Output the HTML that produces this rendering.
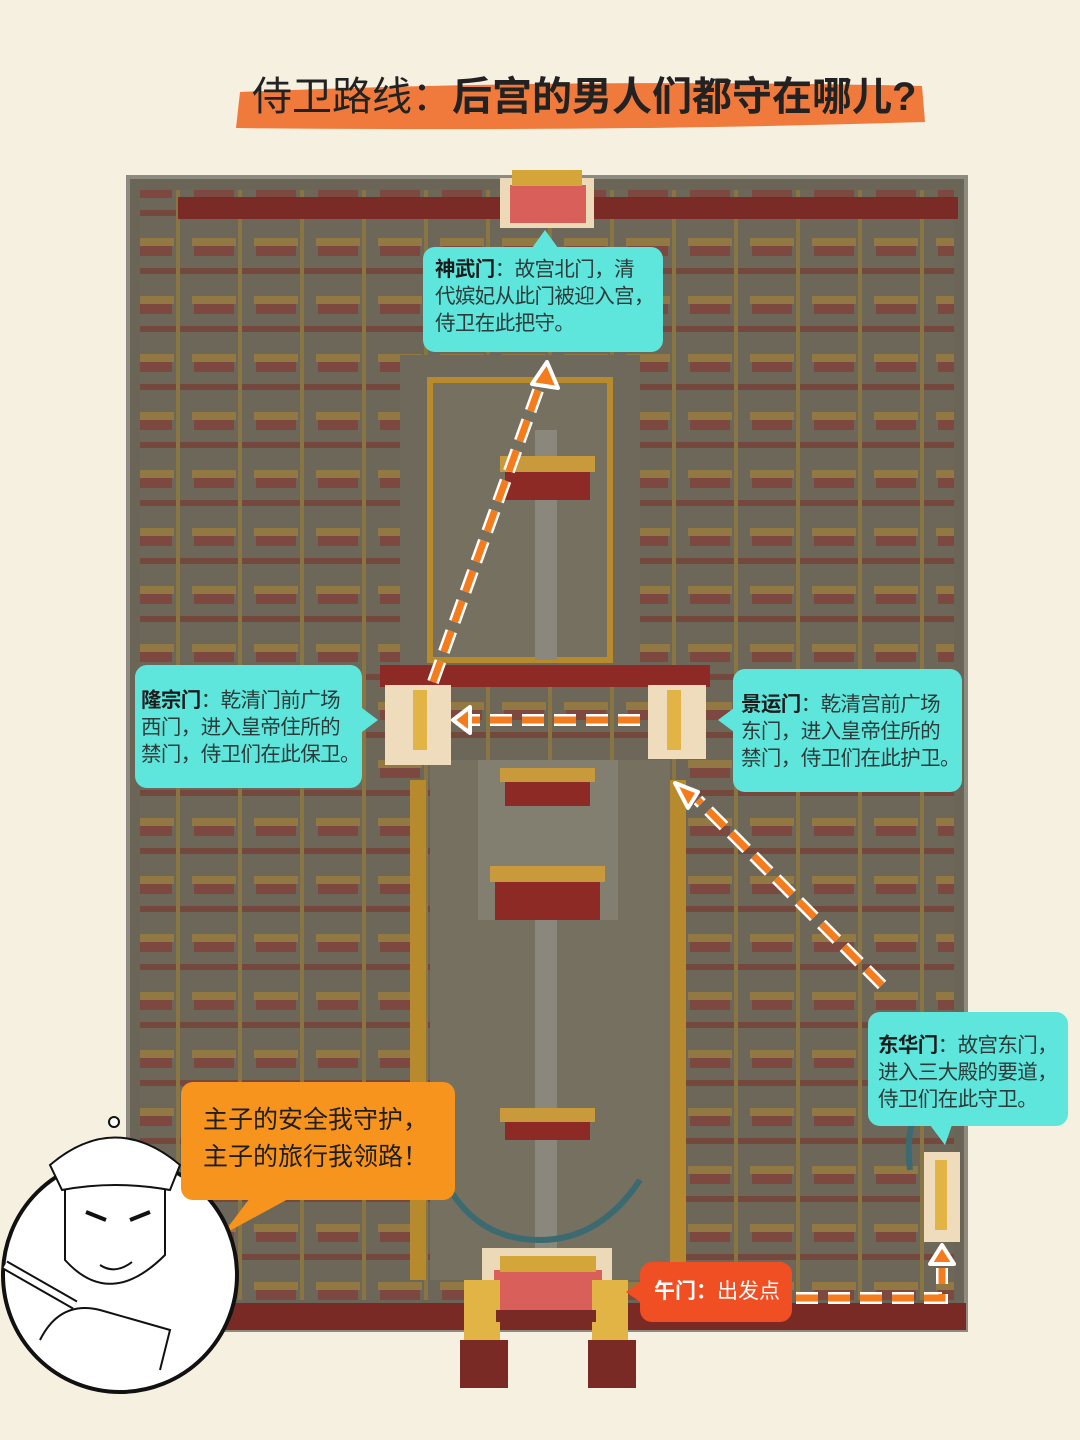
<!DOCTYPE html>
<html><head><meta charset="utf-8"><style>
body{margin:0;width:1080px;height:1440px;background:#f6f0e0;overflow:hidden;position:relative;font-family:"Liberation Sans","Noto Sans CJK SC",sans-serif}
.c{position:absolute;background:#5fe6dc;border-radius:12px;color:#2d3b3a;font-size:20.5px;line-height:27px;padding:9px 0 0 12px;box-sizing:border-box;white-space:nowrap;letter-spacing:-0.6px}
.c b{color:#1c1c1c}
</style></head><body>
<svg width="1080" height="1440" style="position:absolute;left:0;top:0">
<defs>
<pattern id="bld" width="62" height="58" patternUnits="userSpaceOnUse">
<rect width="62" height="58" fill="#6f695c"/>
<rect x="6" y="6" width="44" height="8" fill="#b88a2e"/>
<rect x="8" y="14" width="40" height="10" fill="#8e2a26"/>
<rect x="0" y="36" width="62" height="6" fill="#7e2a24"/>
<rect x="52" y="0" width="4" height="58" fill="#a7842f"/>
</pattern>
</defs>
<path d="M240 92 Q580 78 922 86 L925 122 Q600 132 236 128 Z" fill="#f07a3c"/>
<rect x="128" y="177" width="838" height="1153" fill="#6b6558" stroke="#8d8a80" stroke-width="4"/>
<rect x="140" y="190" width="814" height="1110" fill="url(#bld)" opacity="0.5"/>
<rect x="178" y="197" width="780" height="22" fill="#7b2b25"/>
<rect x="128" y="1303" width="838" height="27" fill="#7a2a24"/>
<rect x="400" y="355" width="240" height="310" fill="#6f695c"/>
<rect x="430" y="380" width="180" height="280" fill="#75705f" stroke="#b88a2e" stroke-width="6"/>
<rect x="535" y="430" width="22" height="230" fill="#8a877c"/>
<rect x="430" y="760" width="240" height="520" fill="#75705f"/>
<rect x="478" y="760" width="140" height="160" fill="#8a877c" opacity="0.6"/>
<rect x="535" y="920" width="22" height="350" fill="#8a877c"/>
<rect x="410" y="780" width="16" height="500" fill="#b88a2e"/>
<rect x="670" y="780" width="16" height="500" fill="#b88a2e"/>
<rect x="380" y="665" width="330" height="22" fill="#8e2a26"/>
<rect x="495" y="880" width="105" height="40" fill="#8e2a26"/><rect x="490" y="866" width="115" height="16" fill="#c99a3c"/>
<rect x="505" y="780" width="85" height="26" fill="#8e2a26"/><rect x="500" y="768" width="95" height="14" fill="#c99a3c"/>
<rect x="505" y="470" width="85" height="30" fill="#8e2a26"/><rect x="500" y="456" width="95" height="16" fill="#c99a3c"/>
<rect x="505" y="1120" width="85" height="20" fill="#8e2a26"/><rect x="500" y="1108" width="95" height="14" fill="#c99a3c"/>
<path d="M440 1170 Q470 1240 540 1240 Q600 1240 640 1180" fill="none" stroke="#3b6b70" stroke-width="6"/>
<path d="M910 1170 Q905 1130 920 1100" fill="none" stroke="#3b6b70" stroke-width="6"/>
<rect x="500" y="178" width="94" height="50" fill="#ecd9b8"/>
<rect x="510" y="185" width="76" height="38" fill="#d9605a"/>
<rect x="512" y="170" width="70" height="16" fill="#d4a63a"/>
<rect x="385" y="685" width="66" height="80" fill="#efdcbc"/>
<rect x="413" y="690" width="14" height="60" fill="#e2b445"/>
<rect x="648" y="685" width="58" height="74" fill="#efdcbc"/>
<rect x="667" y="690" width="14" height="60" fill="#e2b445"/>
<rect x="924" y="1152" width="36" height="90" fill="#efdcbc"/>
<rect x="935" y="1160" width="12" height="70" fill="#e2b445"/>
<rect x="482" y="1248" width="130" height="62" fill="#ecd9b8"/>
<rect x="494" y="1270" width="108" height="40" fill="#d9605a"/>
<rect x="500" y="1256" width="96" height="16" fill="#d4a63a"/>
<rect x="464" y="1280" width="36" height="60" fill="#e2b445"/><rect x="460" y="1340" width="48" height="48" fill="#7a2a24"/>
<rect x="592" y="1280" width="36" height="60" fill="#e2b445"/><rect x="588" y="1340" width="48" height="48" fill="#7a2a24"/>
<rect x="496" y="1310" width="100" height="12" fill="#7a2a24"/>
<g fill="none" stroke-linecap="butt">
<g stroke="#fff" stroke-width="12" stroke-dasharray="22 10">
<line x1="433" y1="682" x2="540" y2="385"/>
<line x1="640" y1="720" x2="470" y2="720"/>
<line x1="882" y1="985" x2="698" y2="800"/>
<path d="M796 1298 L942 1298 L942 1268"/>
</g>
<g stroke="#f47c1c" stroke-width="7" stroke-dasharray="22 10">
<line x1="433" y1="682" x2="540" y2="385"/>
<line x1="640" y1="720" x2="470" y2="720"/>
<line x1="882" y1="985" x2="698" y2="800"/>
<path d="M796 1298 L942 1298 L942 1268"/>
</g>
</g>
<g fill="#f47c1c" stroke="#fff" stroke-width="4" stroke-linejoin="round">
<polygon points="547,362 532,384 558,388"/>
<polygon points="453,720 470,707 470,733"/>
<polygon points="675,783 698,792 688,808"/>
<polygon points="942,1245 930,1264 954,1264"/>
</g>
<polygon points="545,230 532,248 558,248" fill="#5fe6dc"/>
<polygon points="362,708 378,720 362,732" fill="#5fe6dc"/>
<polygon points="734,708 718,720 734,732" fill="#5fe6dc"/>
<polygon points="930,1125 945,1145 952,1125" fill="#5fe6dc"/>
<polygon points="640,1282 626,1292 640,1302" fill="#f04e23"/>
<polygon points="250,1198 222,1235 290,1198" fill="#f7941d"/>
<circle cx="120" cy="1275" r="117" fill="#fff" stroke="#111" stroke-width="4"/>
<path d="M50 1165 Q115 1110 180 1165 L170 1190 Q115 1180 62 1190 Z" fill="#fff" stroke="#111" stroke-width="2"/>
<circle cx="114" cy="1122" r="5" fill="#fff" stroke="#111" stroke-width="2"/>
<path d="M65 1190 L65 1260 Q110 1310 165 1255 L165 1190" fill="none" stroke="#111" stroke-width="2"/>
<path d="M86 1212 L106 1220 M150 1212 L130 1220" stroke="#111" stroke-width="4"/>
<path d="M100 1265 Q115 1275 132 1262" fill="none" stroke="#111" stroke-width="2"/>
<path d="M5 1265 L75 1305" stroke="#111" stroke-width="10"/><path d="M5 1265 L75 1305" stroke="#fff" stroke-width="6"/>
<path d="M40 1340 Q60 1300 100 1310 L170 1330 L160 1370" fill="none" stroke="#111" stroke-width="2"/>
</svg>
<div style="position:absolute;left:252px;top:64px;font-size:40px;font-weight:bold;color:#222;white-space:nowrap"><span style="font-weight:normal">侍卫路线：</span>后宫的男人们都守在哪儿?</div>
<div class="c" style="left:423px;top:247px;width:240px;height:105px"><b>神武门</b>：故宫北门，清<br>代嫔妃从此门被迎入宫，<br>侍卫在此把守。</div>
<div class="c" style="left:135px;top:665px;width:227px;height:123px;padding-top:22px;padding-left:6px"><b>隆宗门</b>：乾清门前广场<br>西门，进入皇帝住所的<br>禁门，侍卫们在此保卫。</div>
<div class="c" style="left:733px;top:669px;width:229px;height:123px;padding-top:22px;padding-left:8px"><b>景运门</b>：乾清宫前广场<br>东门，进入皇帝住所的<br>禁门，侍卫们在此护卫。</div>
<div class="c" style="left:868px;top:1012px;width:200px;height:114px;padding-top:20px;padding-left:10px"><b>东华门</b>：故宫东门，<br>进入三大殿的要道，<br>侍卫们在此守卫。</div>
<div style="position:absolute;left:181px;top:1082px;width:274px;height:118px;background:#f7941d;border-radius:12px;font-size:25px;line-height:37px;color:#1e1e1e;padding:20px 0 0 22px;box-sizing:border-box;white-space:nowrap">主子的安全我守护，<br>主子的旅行我领路！</div>
<div style="position:absolute;left:640px;top:1262px;width:152px;height:60px;background:#f04e23;border-radius:12px;font-size:21px;line-height:60px;color:#fff;padding-left:14px;box-sizing:border-box"><b>午门：</b>出发点</div>
</body></html>
